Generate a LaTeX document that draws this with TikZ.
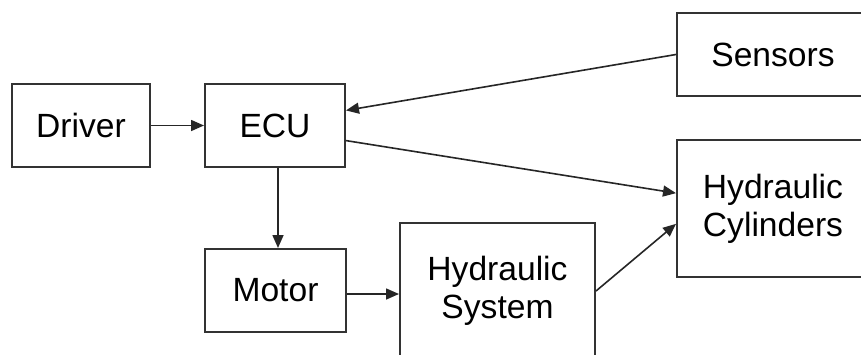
\documentclass[tikz,border=0pt]{standalone}
\usepackage{fontspec}
\setmainfont{Liberation Sans}
\usetikzlibrary{arrows.meta}
\begin{document}
\begin{tikzpicture}[x=0.5pt,y=-0.5pt,
    blk/.style={draw=black!80,line width=1pt,fill=white,align=center,
      font=\fontsize{16.8}{19}\selectfont,inner sep=0pt},
    flow/.style={draw=black!85,line width=0.8pt,-{Triangle[length=6.5pt,width=5.5pt]}}]
  \clip (0,0) rectangle (861,354);
  \fill[white] (0,0) rectangle (861,354);

  \node[blk,minimum width=69pt,minimum height=41.5pt] (drv) at (81,125.5) {Driver};
  \node[blk,minimum width=70pt,minimum height=41.5pt] (ecu) at (275,125.5) {ECU};
  \node[blk,minimum width=96pt,minimum height=41.5pt] (sens) at (773,54.5) {Sensors};
  \node[blk,minimum width=96pt,minimum height=68.5pt] (cyl) at (773,208.5) {Hydraulic\\Cylinders};
  \node[blk,minimum width=70.5pt,minimum height=41.5pt] (mot) at (275.5,290.5) {Motor};
  \node[blk,minimum width=97.5pt,minimum height=68pt] (hyd) at (497.5,291) {Hydraulic\\System};

  \draw[flow] (drv) to (ecu);
  \draw[flow] (sens.west) to (ecu.12);
  \draw[flow] (ecu.-12) to (cyl.171);
  \draw[flow] (ecu.south -| 278,0) to (mot.north -| 278,0);
  \draw[flow] (mot.east |- 0,294) to (hyd.west |- 0,294);
  \draw[flow] (hyd.east) to (cyl.189);
\end{tikzpicture}
\end{document}
